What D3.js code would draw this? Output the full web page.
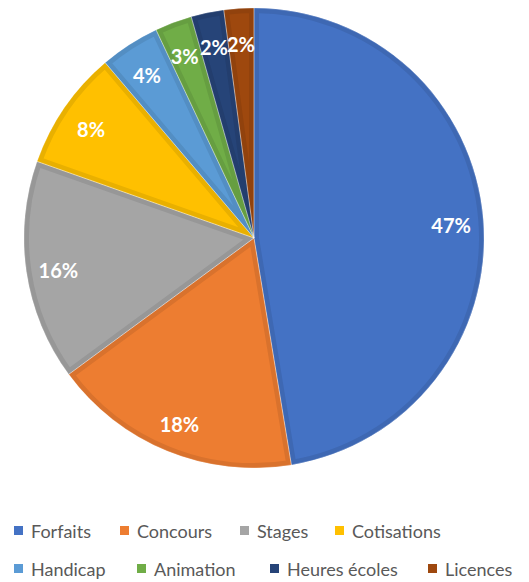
<!DOCTYPE html>
<html>
<head>
<meta charset="utf-8">
<script src="https://cdn.jsdelivr.net/npm/d3@7"></script>
<style>
  body { margin: 0; background: #fff; }
  svg { display: block; }
</style>
</head>
<body>
<div id="chart"></div>
<script>
// shares (labels show them rounded)
var categories = ["Forfaits", "Concours", "Stages", "Cotisations", "Handicap", "Animation", "Heures écoles", "Licences"];
var values = [47.4, 17.5, 15.5, 8.4, 4.2, 2.6, 2.3, 2.1];
var colors = ["#4472C4", "#ED7D31", "#A5A5A5", "#FFC000", "#5B9BD5", "#70AD47", "#264478", "#9E480E"];

var w = 529, h = 582;
var cx = 254, cy = 238, radius = 230;

var svg = d3.select("#chart").append("svg")
    .attr("width", w)
    .attr("height", h);

var dataset = categories.map(function(c, i) { return {key: c, value: values[i], idx: i}; });
var total = d3.sum(values);

var pie = d3.pie()
    .value(function(d) { return d.value; })
    .sort(null);

var arc = d3.arc().innerRadius(0).outerRadius(radius);
var labelArc = d3.arc().innerRadius(radius * 0.86).outerRadius(radius * 0.86);

var g = svg.append("g").attr("transform", "translate(" + cx + "," + cy + ")");
var defs = svg.append("defs");

var arcs = pie(dataset);

arcs.forEach(function(d, i) {
    defs.append("clipPath").attr("id", "clip" + i)
        .append("path").attr("d", arc(d));
});

// slices, darker inner edge like the original
g.selectAll("path.slice")
    .data(arcs)
    .enter()
    .append("path")
    .attr("class", "slice")
    .attr("d", arc)
    .attr("fill", function(d) { return colors[d.data.idx]; })
    .attr("stroke", function(d) { return d3.color(colors[d.data.idx]).darker(0.25); })
    .attr("stroke-width", 10)
    .attr("clip-path", function(d, i) { return "url(#clip" + i + ")"; });

// thin separators
g.selectAll("path.sep")
    .data(arcs)
    .enter()
    .append("path")
    .attr("class", "sep")
    .attr("d", arc)
    .attr("fill", "none")
    .attr("stroke", "rgba(255,255,255,0.35)")
    .attr("stroke-width", 0.8);

g.selectAll("text.lbl")
    .data(arcs)
    .enter()
    .append("text")
    .attr("class", "lbl")
    .attr("text-anchor", "middle")
    .attr("dominant-baseline", "central")
    .attr("transform", function(d) {
        var c = labelArc.centroid(d);
        return "translate(" + c[0] + "," + (c[1] + 3) + ")";
    })
    .attr("fill", "white")
    .style("font-family", "Lato, 'Open Sans', sans-serif")
    .style("font-weight", "bold")
    .style("font-size", "20px")
    .text(function(d) { return Math.round(d.data.value / total * 100) + "%"; });

// legend, two rows of four
var legendRows = [
    {y: 531, x: [14, 120, 240, 335]},
    {y: 569, x: [14, 137, 270, 428]}
];

dataset.forEach(function(d, i) {
    var row = legendRows[Math.floor(i / 4)];
    var x = row.x[i % 4];
    var item = svg.append("g").attr("transform", "translate(" + x + "," + row.y + ")");
    item.append("rect")
        .attr("x", 0).attr("y", -5)
        .attr("width", 9).attr("height", 9)
        .attr("fill", colors[i]);
    item.append("text")
        .attr("x", 17)
        .attr("y", 0)
        .attr("dominant-baseline", "central")
        .attr("fill", "#595959")
        .style("font-family", "Lato, 'Open Sans', sans-serif")
        .style("font-size", "18px")
        .text(d.key);
});
</script>
</body>
</html>
